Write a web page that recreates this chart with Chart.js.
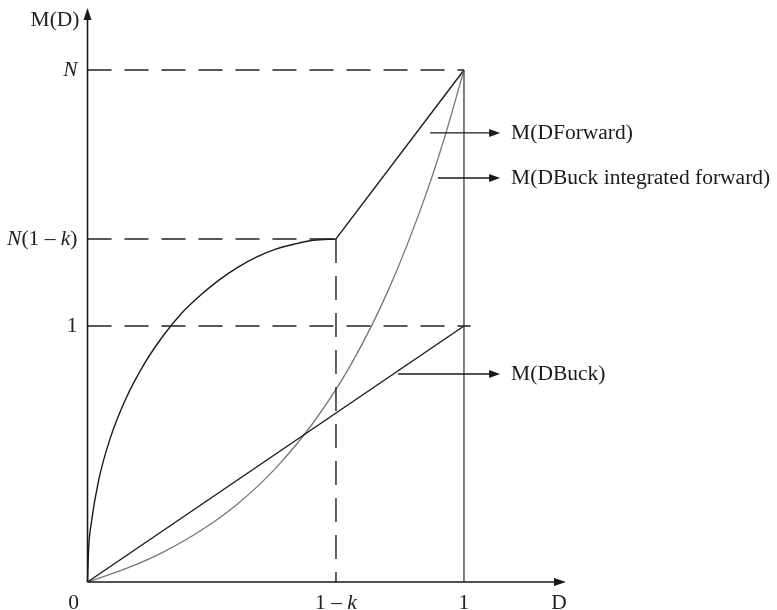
<!DOCTYPE html>
<html>
<head>
<meta charset="utf-8">
<script src="https://cdn.jsdelivr.net/npm/chart.js@4.4.1/dist/chart.umd.min.js"></script>
<style>
  html, body { margin: 0; padding: 0; background: #fff; }
  #wrap { width: 777px; height: 610px; position: relative; }
</style>
</head>
<body>
<div id="wrap"><canvas id="chart"></canvas></div>
<script>
// values (D on x, M(D) on y; N drawn at 2, 1 - k at 0.66)
const N = 2;
const oneMinusK = 0.66;
const nOneMinusK = 1.34;

// M(DForward): rising arc up to (1 - k, N(1 - k)), then straight to (1, N)
const forwardCurveD = [0, 0.003, 0.01, 0.03, 0.06, 0.1, 0.15, 0.2, 0.25, 0.3, 0.35, 0.4, 0.45, 0.5, 0.55, 0.6, 0.66];
const forwardCurveM = [0, 0.13, 0.23, 0.40, 0.56, 0.71, 0.85, 0.96, 1.05, 1.12, 1.18, 1.23, 1.27, 1.30, 1.32, 1.335, 1.34];
const forwardLineD = [0.66, 1];
const forwardLineM = [1.34, 2];

// M(DBuck integrated forward), grey curve
const integratedD = [0, 0.1, 0.2, 0.3, 0.4, 0.5, 0.6, 0.7, 0.8, 0.9, 0.95, 1];
const integratedM = [0, 0.051, 0.116, 0.20, 0.307, 0.445, 0.623, 0.85, 1.143, 1.518, 1.744, 2];

// M(DBuck), straight line
const buckD = [0, 1];
const buckM = [0, 1];

// axis tick labels
const yTickValues = [N, nOneMinusK, 1];
const xTickValues = [0, oneMinusK, 1];

// callout arrows: [start D, end D, level M, label]
const callouts = [
  [0.91, 1.096, 1.754, "M(DForward)"],
  [0.931, 1.096, 1.578, "M(DBuck integrated forward)"],
  [0.825, 1.096, 0.8125, "M(DBuck)"]
];

const xMax = 1.271;
const yMax = 2.242;

function pts(xs, ys) {
  return xs.map((x, i) => ({ x: x, y: ys[i] }));
}

const SERIF = "'Liberation Serif', 'DejaVu Serif', serif";
const FS = 20;
const STRETCH = 1.075; // the original face is a bit wider than Times

const dashed = (points, extra) => Object.assign({
  data: points,
  borderColor: "#222",
  borderWidth: 1.4,
  borderDash: [24, 13],
  pointRadius: 0,
  fill: false,
  clip: false
}, extra || {});

function arrowHead(ctx, x, y, dir) {
  ctx.beginPath();
  if (dir === "right") {
    ctx.moveTo(x, y);
    ctx.lineTo(x - 12, y - 4);
    ctx.lineTo(x - 12, y + 4);
  } else {
    ctx.moveTo(x, y);
    ctx.lineTo(x - 4, y + 12);
    ctx.lineTo(x + 4, y + 12);
  }
  ctx.closePath();
  ctx.fill();
}

// text made of pieces, some italic, slightly stretched; align right/center/left
function mixedText(ctx, parts, x, y, align) {
  const widths = parts.map(p => {
    ctx.font = (p[1] ? "italic " : "") + FS + "px " + SERIF;
    return ctx.measureText(p[0]).width;
  });
  const total = widths.reduce((a, b) => a + b, 0) * STRETCH;
  let cx = align === "right" ? x - total : align === "center" ? x - total / 2 : x;
  ctx.save();
  ctx.translate(cx, y);
  ctx.scale(STRETCH, 1);
  ctx.textAlign = "left";
  ctx.textBaseline = "middle";
  let off = 0;
  parts.forEach((p, i) => {
    ctx.font = (p[1] ? "italic " : "") + FS + "px " + SERIF;
    ctx.fillText(p[0], off, 0);
    off += widths[i];
  });
  ctx.restore();
}

const decorations = {
  id: "decorations",
  afterDatasetsDraw(chart) {
    const ctx = chart.ctx;
    const xs = chart.scales.x;
    const ys = chart.scales.y;
    const x0 = xs.getPixelForValue(0);
    const y0 = ys.getPixelForValue(0);
    const xEnd = xs.getPixelForValue(xMax);
    const yEnd = ys.getPixelForValue(yMax);

    ctx.save();
    ctx.strokeStyle = "#1a1a1a";
    ctx.fillStyle = "#1a1a1a";
    ctx.lineWidth = 1.6;

    // axes
    ctx.beginPath();
    ctx.moveTo(x0, y0);
    ctx.lineTo(xEnd - 4, y0);
    ctx.moveTo(x0, y0);
    ctx.lineTo(x0, yEnd + 4);
    ctx.stroke();
    arrowHead(ctx, xEnd, y0, "right");
    arrowHead(ctx, x0, yEnd, "up");

    // callout arrows
    ctx.lineWidth = 1.3;
    callouts.forEach(c => {
      const a = xs.getPixelForValue(c[0]);
      const b = xs.getPixelForValue(c[1]);
      const y = ys.getPixelForValue(c[2]);
      ctx.beginPath();
      ctx.moveTo(a, y);
      ctx.lineTo(b - 6, y);
      ctx.stroke();
      ctx.beginPath();
      ctx.moveTo(b, y);
      ctx.lineTo(b - 11, y - 4);
      ctx.lineTo(b - 11, y + 4);
      ctx.closePath();
      ctx.fill();
      mixedText(ctx, [[c[3], false]], b + 11, y + 1, "left");
    });

    // labels
    ctx.fillStyle = "#222";
    const lx = x0 - 10;
    mixedText(ctx, [["N", true]], lx, ys.getPixelForValue(yTickValues[0]) + 1, "right");
    mixedText(ctx, [["N", true], ["(1 \u2013 ", false], ["k", true], [")", false]], lx, ys.getPixelForValue(yTickValues[1]) + 1, "right");
    mixedText(ctx, [["1", false]], lx, ys.getPixelForValue(yTickValues[2]) + 1, "right");

    const ty = y0 + 22;
    mixedText(ctx, [["0", false]], x0 - 14, ty, "center");
    mixedText(ctx, [["1 \u2013 ", false], ["k", true]], xs.getPixelForValue(xTickValues[1]), ty, "center");
    mixedText(ctx, [["1", false]], xs.getPixelForValue(xTickValues[2]), ty, "center");
    mixedText(ctx, [["D", false]], xEnd - 7, y0 + 22, "center");
    mixedText(ctx, [["M(D)", false]], x0 - 8, yEnd + 13, "right");
    ctx.restore();
  }
};

new Chart(document.getElementById("chart"), {
  type: "line",
  data: {
    datasets: [
      dashed(pts([0, 1], [N, N])),
      dashed(pts([0, oneMinusK], [nOneMinusK, nOneMinusK])),
      dashed(pts([0, 1.018], [1, 1])),
      dashed(pts([oneMinusK, oneMinusK], [nOneMinusK, 0])),
      {
        data: pts([1, 1], [0, N]),
        borderColor: "#4a4a4a",
        borderWidth: 1.4,
        pointRadius: 0,
        clip: false
      },
      {
        data: pts(buckD, buckM),
        borderColor: "#1a1a1a",
        borderWidth: 1.4,
        pointRadius: 0,
        clip: false
      },
      {
        data: pts(integratedD, integratedM),
        borderColor: "#777",
        borderWidth: 1.3,
        pointRadius: 0,
        cubicInterpolationMode: "monotone",
        clip: false
      },
      {
        data: pts(forwardCurveD, forwardCurveM),
        borderColor: "#1a1a1a",
        borderWidth: 1.4,
        pointRadius: 0,
        cubicInterpolationMode: "monotone",
        clip: false
      },
      {
        data: pts(forwardLineD, forwardLineM),
        borderColor: "#1a1a1a",
        borderWidth: 1.4,
        pointRadius: 0,
        clip: false
      }
    ]
  },
  options: {
    responsive: true,
    maintainAspectRatio: false,
    animation: false,
    layout: { padding: { left: 87.5, right: 211, top: 8, bottom: 28 } },
    plugins: { legend: { display: false }, tooltip: { enabled: false } },
    scales: {
      x: { type: "linear", min: 0, max: xMax, display: false },
      y: { type: "linear", min: 0, max: yMax, display: false }
    }
  },
  plugins: [decorations]
});
</script>
</body>
</html>
